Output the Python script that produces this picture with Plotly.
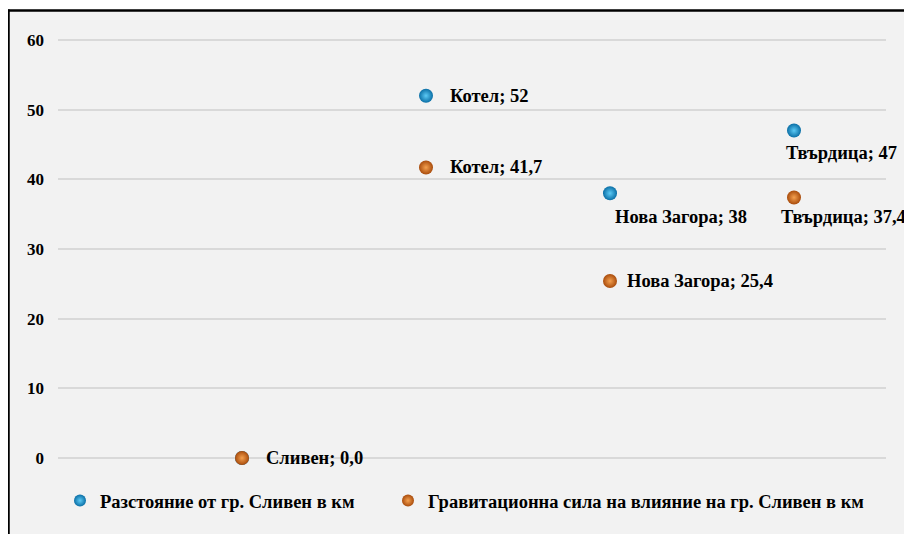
import plotly.graph_objects as go

# ---- data ----
cities = ["Сливен", "Котел", "Нова Загора", "Твърдица"]
city_pos = [1, 2, 3, 4]
distance_km = [0, 52, 38, 47]
gravity_km = [0.0, 41.7, 25.4, 37.4]
series_names = ["Разстояние от гр. Сливен в км",
                "Гравитационна сила на влияние на гр. Сливен в км"]
y_ticks = [0, 10, 20, 30, 40, 50, 60]

# ---- style ----
OFF = 8  # browser body margin
W, H = 904, 526
ML, MR, MT, MB = 50, 26, 30, 76
PW, PH = W - ML - MR, H - MT - MB
Y_TOP = 60 * PH / 418  # a little headroom so the 60 gridline is drawn
FONT = "Liberation Serif, Times New Roman, serif"
BLUE_EDGE, BLUE_CENTER = "#0B6FA6", "#5CCAF5"
ORANGE_EDGE, ORANGE_CENTER = "#A94C0C", "#F4A04F"
LABEL_SIZE = 18.5

# label offsets (px): xshift, yshift (positive = up)
blue_offsets = [None, (22, 0), (3, -24), (-10, -22)]
orange_offsets = [(22, 0), (22, 0), (15, 0), (-15, -20)]


def px_x(p):
    """page pixel -> paper x"""
    return (p - OFF - ML) / PW


def px_y(p):
    """page pixel -> paper y"""
    return (OFF + H - MB - p) / PH


fig = go.Figure()
fig.add_trace(go.Scatter(
    x=city_pos, y=distance_km, mode="markers", name=series_names[0],
    cliponaxis=False, legend="legend",
    marker=dict(size=14, color=BLUE_EDGE, line=dict(width=0),
                gradient=dict(type="radial", color=BLUE_CENTER)),
))
fig.add_trace(go.Scatter(
    x=city_pos, y=gravity_km, mode="markers", name=series_names[1],
    cliponaxis=False, legend="legend2",
    marker=dict(size=14, color=ORANGE_EDGE, line=dict(width=0),
                gradient=dict(type="radial", color=ORANGE_CENTER)),
))

label_font = dict(family=FONT, size=LABEL_SIZE, color="#000", weight="bold")
annotations = []
for i, (c, xv, v) in enumerate(zip(cities, city_pos, distance_km)):
    off = blue_offsets[i]
    if off is None:
        continue
    annotations.append(dict(x=xv, y=v, xref="x", yref="y", text=f"{c}; {v}",
                            showarrow=False, xanchor="left", yanchor="middle",
                            xshift=off[0], yshift=off[1], font=label_font))
for i, (c, xv, v) in enumerate(zip(cities, city_pos, gravity_km)):
    off = orange_offsets[i]
    annotations.append(dict(x=xv, y=v, xref="x", yref="y",
                            text=f"{c}; " + f"{v:.1f}".replace(".", ","),
                            showarrow=False, xanchor="left", yanchor="middle",
                            xshift=off[0], yshift=off[1], font=label_font))

shapes = [
    dict(type="rect", xref="paper", yref="paper", layer="below",
         x0=px_x(9), x1=px_x(930), y0=px_y(560), y1=px_y(10),
         fillcolor="#F2F2F2", line=dict(width=0)),
    dict(type="line", xref="paper", yref="paper",
         x0=px_x(7.5), x1=px_x(930), y0=px_y(10.5), y1=px_y(10.5),
         line=dict(color="#000", width=2.5)),
    dict(type="line", xref="paper", yref="paper",
         x0=px_x(8.5), x1=px_x(8.5), y0=px_y(9.5), y1=px_y(560),
         line=dict(color="#000", width=2.5)),
]

legend_font = dict(family=FONT, size=LABEL_SIZE, color="#000", weight="bold")
fig.update_layout(
    width=W, height=H,
    margin=dict(l=ML, r=MR, t=MT, b=MB, autoexpand=False),
    paper_bgcolor="white", plot_bgcolor="#F2F2F2",
    showlegend=True,
    legend=dict(orientation="h", x=px_x(60), xanchor="left",
                y=px_y(501), yanchor="middle", bgcolor="rgba(0,0,0,0)",
                font=legend_font, itemsizing="constant"),
    legend2=dict(orientation="h", x=px_x(388), xanchor="left",
                 y=px_y(501), yanchor="middle", bgcolor="rgba(0,0,0,0)",
                 font=legend_font, itemsizing="constant"),
    xaxis=dict(range=[0, 4.5], showgrid=False, zeroline=False,
               showticklabels=False, showline=False, fixedrange=True),
    yaxis=dict(range=[0, Y_TOP], tickvals=y_ticks, ticktext=[str(t) for t in y_ticks],
               showgrid=True, gridcolor="#D9D9D9", gridwidth=2,
               zeroline=True, zerolinecolor="#D9D9D9", zerolinewidth=2,
               showline=False, ticks="", ticklabelstandoff=13,
               tickfont=dict(family=FONT, size=17, color="#000", weight="bold")),
    annotations=annotations, shapes=shapes,
)

fig.write_html("out.html")
